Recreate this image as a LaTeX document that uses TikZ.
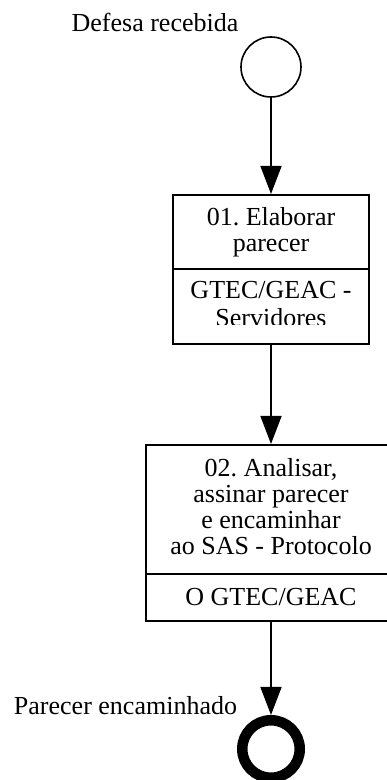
\documentclass[tikz,border=0pt]{standalone}
\usepackage{fontspec}
\setmainfont{Liberation Serif}
\usetikzlibrary{arrows.meta,positioning}
\frenchspacing

\begin{document}
\begin{tikzpicture}[x=1pt,y=1pt,
    flow/.style={-{Triangle[length=28pt,width=21pt]}, line width=1.6pt},
    txt/.style={font=\fontsize{26}{26}\selectfont, inner sep=0pt, anchor=base},
    task/.style={draw, line width=2pt, rectangle, inner sep=0pt}]
    \useasboundingbox (0,0) rectangle (386,780);

    % start event
    \node[circle, draw, line width=1.6pt, minimum size=60pt, inner sep=0pt] (start) at (271,713) {};
    \node[txt] (startlabel) at (155,748) {Defesa recebida};

    % task 01
    \node[task, minimum width=196pt, minimum height=149pt] (act1) at (271,510.5) {};
    \coordinate (div1) at (271,511);
    \draw[line width=2pt] (act1.west |- div1) -- (act1.east |- div1);
    \node[txt] (act1a) at (271,554) {01. Elaborar};
    \node[txt] (act1b) at (271,528) {parecer};
    \node[txt] (act1c) at (271,481) {GTEC/GEAC -};
    \begin{scope}
      \clip (173,455) rectangle (369,511);
      \node[txt] (act1d) at (271,453) {Servidores};
    \end{scope}

    % task 02
    \node[task, minimum width=250pt, minimum height=176pt] (act2) at (271,247) {};
    \coordinate (div2) at (271,206);
    \draw[line width=2pt] (act2.west |- div2) -- (act2.east |- div2);
    \node[txt] (act2a) at (271,303) {02. Analisar,};
    \node[txt] (act2b) at (271,277) {assinar parecer};
    \node[txt] (act2c) at (271,251) {e encaminhar};
    \node[txt] (act2d) at (271,225) {ao SAS - Protocolo};
    \node[txt] (act2e) at (271,174) {O GTEC/GEAC};

    % end event
    \node[circle, draw, line width=10.5pt, minimum size=57.5pt, inner sep=0pt] (end) at (271,31) {};
    \node[txt] (endlabel) at (125.5,65) {Parecer encaminhado};

    \draw[flow] (start) -- (act1);
    \draw[flow] (act1) -- (act2);
    \draw[flow] (act2) -- (end);
\end{tikzpicture}
\end{document}
